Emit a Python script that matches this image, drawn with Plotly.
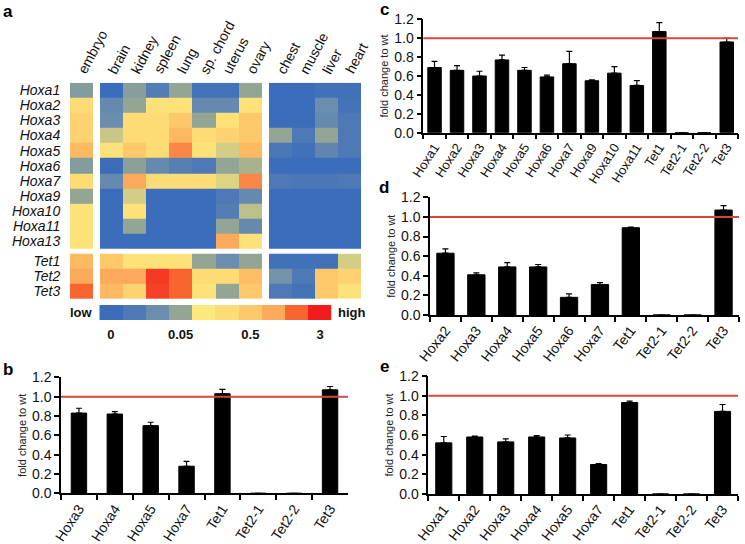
import plotly.graph_objects as go

W, H = 745, 544
FONT = "Liberation Sans, Arial, sans-serif"

# ---------------- heatmap data (expression level index 0..9) ----------------
hox_genes = ["Hoxa1", "Hoxa2", "Hoxa3", "Hoxa4", "Hoxa5", "Hoxa6", "Hoxa7",
             "Hoxa9", "Hoxa10", "Hoxa11", "Hoxa13"]
tet_genes = ["Tet1", "Tet2", "Tet3"]
embryo_tissues = ["embryo"]
adult_tissues = ["brain", "kidney", "spleen", "lung", "sp. chord", "uterus", "ovary"]
other_tissues = ["chest", "muscle", "liver", "heart"]

# values per tissue: 11 Hoxa genes then Tet1, Tet2, Tet3
embryo = [2.6, 5, 5.5, 5.5, 6.5, 2.6, 5, 3, 4.5, 4.5, 4.5, 6.5, 7, 8]
brain = [0, 1.8, 2, 3.5, 4.5, 0, 1.8, 0, 0, 0, 0, 6, 7, 6.5]
kidney = [2.7, 3, 5, 5, 6, 2.8, 7, 3.6, 4.5, 3, 0, 4.5, 7, 5.5]
spleen = [1.2, 4.5, 5, 5, 5, 1.8, 5, 0, 0, 0, 0, 4.5, 8.6, 8.5]
lung = [3, 4.5, 6, 6.5, 7.5, 1.3, 5, 0, 0, 0, 0, 4.5, 8, 8]
sp_chord = [0.5, 1.8, 3, 5, 4.5, 1, 5, 0, 0, 0, 0, 3, 5, 4.5]
uterus = [0.5, 1.8, 4.5, 5.5, 3.6, 3, 3.7, 1, 1.2, 3, 7, 2, 5, 3]
ovary = [3, 4.5, 6, 6, 6.5, 3.2, 7.5, 1.8, 3.4, 1.8, 4.5, 3, 6.3, 6]
chest = [0, 0, 0, 3, 0.8, 0, 1, 0, 0, 0, 0, 0.3, 2.2, 1]
muscle = [0, 0, 0, 1, 0.3, 0, 0.8, 0, 0, 0, 0, 0.3, 1, 0.5]
liver = [0.3, 2, 1.8, 3, 1.6, 0, 0.8, 0, 0, 0, 0, 0.3, 6, 6]
heart = [0.3, 0.5, 1, 1, 1, 0, 1, 0, 0, 0, 0, 3.6, 5.5, 4.5]

scale_levels = [0, 1, 2, 3, 4, 5, 6, 7, 8, 9]
scale_labels = ["0", "0.05", "0.5", "3"]
scale_label_levels = [0, 3, 6, 9]
scale_colors = ["#3b6dbb", "#4e79b4", "#6c8eae", "#93a594", "#fde87c",
                "#fddc76", "#fdc86a", "#fba95a", "#f8652f", "#f21c1d"]

# ---------------- bar chart data ----------------
b_genes = ["Hoxa3", "Hoxa4", "Hoxa5", "Hoxa7", "Tet1", "Tet2-1", "Tet2-2", "Tet3"]
b_vals = [0.83, 0.82, 0.70, 0.28, 1.03, 0, 0, 1.07]
b_err = [0.05, 0.025, 0.035, 0.05, 0.045, 0, 0, 0.035]

c_genes = ["Hoxa1", "Hoxa2", "Hoxa3", "Hoxa4", "Hoxa5", "Hoxa6", "Hoxa7", "Hoxa9",
           "Hoxa10", "Hoxa11", "Tet1", "Tet2-1", "Tet2-2", "Tet3"]
c_vals = [0.69, 0.66, 0.60, 0.77, 0.66, 0.59, 0.73, 0.55, 0.63, 0.50, 1.07, 0, 0, 0.96]
c_err = [0.065, 0.05, 0.05, 0.05, 0.03, 0.02, 0.13, 0.01, 0.07, 0.05, 0.095, 0, 0, 0.04]

d_genes = ["Hoxa2", "Hoxa3", "Hoxa4", "Hoxa5", "Hoxa6", "Hoxa7", "Tet1", "Tet2-1", "Tet2-2", "Tet3"]
d_vals = [0.63, 0.41, 0.49, 0.49, 0.18, 0.31, 0.89, 0, 0, 1.07]
d_err = [0.045, 0.02, 0.045, 0.025, 0.035, 0.02, 0.005, 0, 0, 0.045]

e_genes = ["Hoxa1", "Hoxa2", "Hoxa3", "Hoxa4", "Hoxa5", "Hoxa7", "Tet1", "Tet2-1", "Tet2-2", "Tet3"]
e_vals = [0.52, 0.58, 0.53, 0.58, 0.57, 0.30, 0.93, 0, 0, 0.84]
e_err = [0.065, 0.01, 0.03, 0.015, 0.03, 0.01, 0.015, 0, 0, 0.07]

ref_level = 1.0

# ---------------- helpers ----------------
def px_x(p):
    return p / W

def px_y(p):
    return 1 - p / H

colorscale = [[i / 9, c] for i, c in enumerate(scale_colors)]

fig = go.Figure()

# ---- heatmap (one trace, NaN gaps with narrow edges) ----
col_gap = 0.32
row_gap = 0.33
blocks = [[embryo], [brain, kidney, spleen, lung, sp_chord, uterus, ovary],
          [chest, muscle, liver, heart]]
block_names = [embryo_tissues, adult_tissues, other_tissues]

cols = []
x_edges = [0.0]
x_centers, x_text = [], []
for bi, (blk, names) in enumerate(zip(blocks, block_names)):
    if bi > 0:
        cols.append(None)
        x_edges.append(x_edges[-1] + col_gap)
    for data, name in zip(blk, names):
        cols.append(data)
        x_centers.append(x_edges[-1] + 0.5)
        x_text.append(name)
        x_edges.append(x_edges[-1] + 1)

n_hox = len(hox_genes)
row_ids = list(range(n_hox)) + [None] + list(range(n_hox, n_hox + len(tet_genes)))
all_genes = hox_genes + tet_genes
y_edges = [0.0]
y_centers, y_text = [], []
for r in row_ids:
    if r is None:
        y_edges.append(y_edges[-1] + row_gap)
    else:
        y_centers.append(y_edges[-1] + 0.5)
        y_text.append("<i>%s</i>" % all_genes[r])
        y_edges.append(y_edges[-1] + 1)

z = []
for r in row_ids:
    row = []
    for c in cols:
        if r is None or c is None:
            row.append(None)
        else:
            row.append(c[r])
    z.append(row)

fig.add_trace(go.Heatmap(z=z, x=x_edges, y=y_edges, colorscale=colorscale,
                         zmin=0, zmax=9, showscale=False, hoverinfo="skip",
                         xaxis="x", yaxis="y"))

# ---- color key ----
fig.add_trace(go.Heatmap(z=[scale_levels], x=scale_levels, y=[0], colorscale=colorscale,
                         zmin=0, zmax=9, showscale=False, hoverinfo="skip",
                         xaxis="x2", yaxis="y2"))

# ---- bar panels ----
panels = [
    (b_genes, b_vals, b_err, "x3", "y3", 0.43),
    (c_genes, c_vals, c_err, "x4", "y4", 0.60),
    (d_genes, d_vals, d_err, "x5", "y5", 0.56),
    (e_genes, e_vals, e_err, "x6", "y6", 0.52),
]
for genes, vals, err, xa, ya, bw in panels:
    fig.add_trace(go.Bar(
        x=genes, y=vals, width=bw, xaxis=xa, yaxis=ya,
        marker=dict(color="black", line=dict(color="black", width=1)),
        error_y=dict(type="data", array=err, arrayminus=[0] * len(err), symmetric=False,
                     color="black", thickness=1.2, width=3),
        hoverinfo="skip", showlegend=False))

layout = dict(
    template="none",
    width=W, height=H, margin=dict(l=0, r=0, t=0, b=0, pad=0, autoexpand=False),
    paper_bgcolor="white", plot_bgcolor="white", showlegend=False,
    font=dict(family=FONT, color="#111"),
)

# heatmap axes
layout["xaxis"] = dict(domain=[px_x(70), px_x(361)], range=[0, x_edges[-1]], anchor="y",
                       side="top", showticklabels=False, ticks="", automargin=False,
                       showgrid=False, zeroline=False, showline=False, fixedrange=True)
layout["yaxis"] = dict(domain=[px_y(299), px_y(82.7)], range=[y_edges[-1], 0], anchor="x",
                       tickmode="array", tickvals=y_centers, ticktext=y_text,
                       tickfont=dict(size=14, family=FONT, color="#111"),
                       ticks="outside", ticklen=6, tickcolor="rgba(0,0,0,0)", automargin=False,
                       showgrid=False, zeroline=False, showline=False, fixedrange=True)
# key axes
layout["xaxis2"] = dict(domain=[px_x(99.3), px_x(331.7)], range=[-0.5, 9.5], anchor="y2",
                        tickmode="array", tickvals=scale_label_levels,
                        ticktext=["<b>%s</b>" % t for t in scale_labels],
                        tickfont=dict(size=13, family=FONT, color="#111"),
                        ticks="outside", ticklen=2, tickcolor="rgba(0,0,0,0)", automargin=False,
                        showgrid=False, zeroline=False, showline=False)
layout["yaxis2"] = dict(domain=[px_y(320), px_y(305)], range=[-0.5, 0.5], anchor="x2",
                        visible=False, automargin=False)

bar_geom = {
    "3": (61, 348, 377.3, 493.3, 14),
    "4": (423.3, 738, 19.3, 132.7, 13),
    "5": (430, 739, 197.3, 315, 14),
    "6": (428.3, 738, 376, 494, 14),
}
shapes = []
for k, (x0, x1, yt, yb, fs) in bar_geom.items():
    layout["xaxis" + k] = dict(domain=[px_x(x0), px_x(x1)], anchor="y" + k, type="category",
                               tickson="boundaries", ticks="outside", ticklen=5, tickwidth=1.5,
                               tickcolor="black", showline=True, linecolor="black", linewidth=1.5,
                               tickangle=-57 if k in ("3", "4") else -52,
                               tickfont=dict(size=fs, family=FONT, color="#111"),
                               showgrid=False, zeroline=False, automargin=False)
    layout["yaxis" + k] = dict(domain=[px_y(yb), px_y(yt)], anchor="x" + k, range=[0, 1.2],
                               tickmode="linear", tick0=0, dtick=0.2, tickformat=".1f",
                               ticks="outside", ticklen=5, tickwidth=1.5, tickcolor="black",
                               showline=True, linecolor="black", linewidth=1.5,
                               tickfont=dict(size=14, family=FONT, color="#111"),
                               title=dict(text="fold change to wt", font=dict(size=11, family=FONT, color="#222"),
                                          standoff=3),
                               showgrid=False, zeroline=False, automargin=False)
    shapes.append(dict(type="line", xref="x%s domain" % k, yref="y" + k, x0=0, x1=1,
                       y0=ref_level, y1=ref_level, line=dict(color="#d9463e", width=2)))
layout["shapes"] = shapes

annotations = []
# tissue column headers, rotated, starting at each column
for xc, name in zip(x_centers, x_text):
    annotations.append(dict(text=name, x=xc, xref="x", y=px_y(79), yref="paper",
                            xanchor="left", yanchor="bottom", xshift=-10, textangle=-62,
                            showarrow=False, font=dict(size=14, family=FONT, color="#111")))
for letter, x, y in [("a", 8, 11), ("b", 8, 369), ("c", 384, 9), ("d", 384, 187), ("e", 384, 366)]:
    annotations.append(dict(text="<b>%s</b>" % letter, x=px_x(x), y=px_y(y), xref="paper", yref="paper",
                            xanchor="center", yanchor="middle", showarrow=False,
                            font=dict(size=17, family=FONT, color="black")))
annotations.append(dict(text="<b>low</b>", x=px_x(95), y=px_y(312), xref="paper", yref="paper",
                        xanchor="right", yanchor="middle", showarrow=False,
                        font=dict(size=13, family=FONT, color="#111")))
annotations.append(dict(text="<b>high</b>", x=px_x(336), y=px_y(312), xref="paper", yref="paper",
                        xanchor="left", yanchor="middle", showarrow=False,
                        font=dict(size=13, family=FONT, color="#111")))
layout["annotations"] = annotations

fig.update_layout(**layout)
fig.write_html("out.html", config={"displayModeBar": False},
               post_script="document.body.style.margin='0';document.body.style.overflow='hidden';")
